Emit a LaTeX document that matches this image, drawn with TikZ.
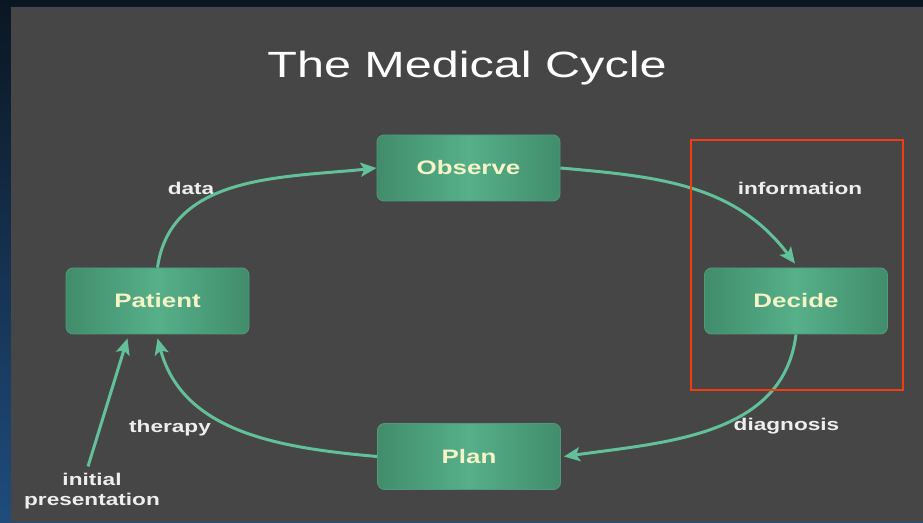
\documentclass[tikz,border=0pt]{standalone}
\usepackage{fontspec}
\setmainfont{Liberation Sans}
\newfontfamily\widefont[FakeStretch=1.33]{Liberation Sans}
\usetikzlibrary{arrows.meta}
\definecolor{panel}{HTML}{464646}
\definecolor{outerTop}{HTML}{0B1622}
\definecolor{outerBot}{HTML}{1F4C7C}
\definecolor{boxD}{HTML}{418C6B}
\definecolor{boxL}{HTML}{56B08A}
\definecolor{boxE}{HTML}{4E9C7C}
\definecolor{arr}{HTML}{62C09A}
\definecolor{boxtxt}{HTML}{F4F4C6}
\definecolor{lbl}{HTML}{EEEEEE}
\definecolor{frameRed}{HTML}{F23C12}
\tikzset{
  box/.style={rounded corners=7pt, minimum width=183pt, minimum height=66pt,
    left color=boxD, right color=boxD, middle color=boxL, draw=boxE, line width=0.8pt,
    text=boxtxt, font=\widefont\bfseries\fontsize{19.5}{22}\selectfont},
  lab/.style={text=lbl, font=\widefont\bfseries\fontsize{17}{20}\selectfont, inner sep=0pt},
  conn/.style={draw=arr, line width=3pt, -{Stealth[length=16pt,width=14pt,inset=3.5pt]}}
}
\begin{document}
\begin{tikzpicture}[x=1pt,y=1pt]
\useasboundingbox (0,0) rectangle (923,522);
\shade[top color=outerTop, bottom color=outerBot] (0,0) rectangle (923,522);
\fill[panel] (11,0) rectangle (923,515);

\node[text=white, font=\widefont\fontsize{36.5}{40}\selectfont, anchor=base] (title) at (467,444) {The Medical Cycle};

\node[box] (obs) at (468.5,354) {Observe};
\node[box] (dec) at (796,221) {Decide};
\node[box] (pat) at (157.5,221) {Patient};
\node[box] (plan) at (469,65.5) {Plan};

\node[lab, anchor=base] (data) at (191,327) {data};
\node[lab, anchor=base] (info) at (800,327) {information};
\node[lab, anchor=base] (diag) at (786.5,91) {diagnosis};
\node[lab, anchor=base] (ther) at (170,89) {therapy};
\node[lab, align=center, anchor=base] (ini) at (92,17) {initial\\presentation};

\draw[conn] (pat.north) to[out=82,in=186] (obs.west);
\draw[conn] (obs.east) to[out=-5,in=127] ([xshift=-1pt,yshift=4pt]dec.north);
\draw[conn] (dec.south) to[out=-97,in=8] ([xshift=3pt]plan.east);
\draw[conn] (plan.west) to[out=175,in=-75] ([yshift=-4pt]pat.south);
\draw[conn] ([xshift=-4pt,yshift=6pt]ini.north) -- ([xshift=-30pt,yshift=-4pt]pat.south);

\draw[frameRed, line width=2pt] (691,382) rectangle (903,132);
\end{tikzpicture}
\end{document}
